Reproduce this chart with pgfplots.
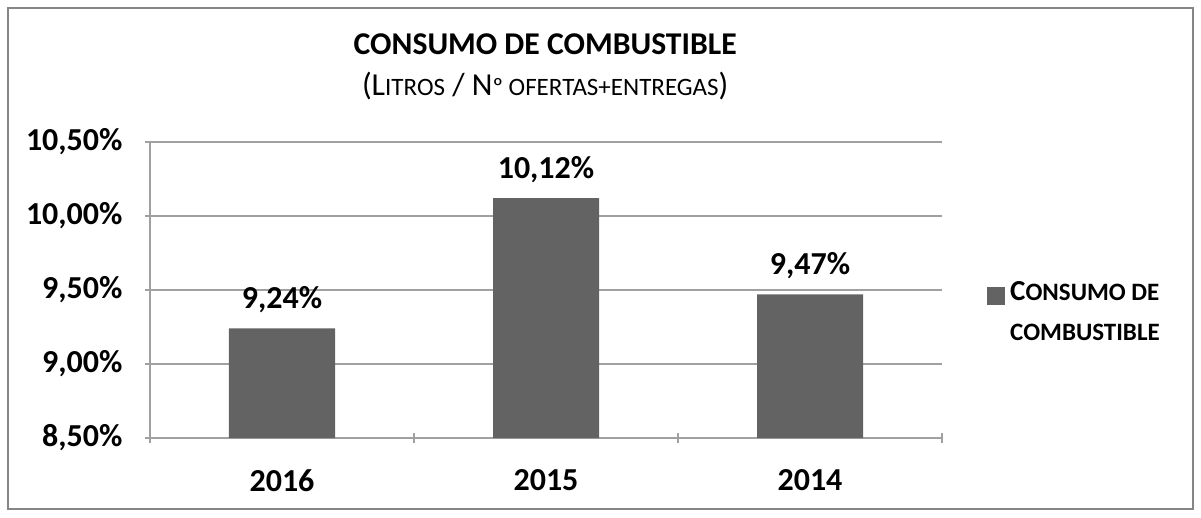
\documentclass[border=0pt]{standalone}
\usepackage{pgfplots}
\pgfplotsset{compat=1.18}
\usepackage{fontspec}
\setmainfont{Carlito}
\definecolor{barfill}{HTML}{636363}
\definecolor{gridgray}{HTML}{A0A0A0}
\definecolor{framegray}{HTML}{868686}
\newcommand\bigc[1]{{\fontsize{32}{32}\selectfont #1}}
\newcommand\smc[1]{{\fontsize{25}{25}\selectfont #1}}
\newcommand\legc[1]{{\fontsize{29}{29}\selectfont #1}}
\newcommand\legs[1]{{\fontsize{25}{25}\selectfont #1}}
\begin{document}
\begin{tikzpicture}
\begin{axis}[
    scale only axis,
    width=792pt, height=296pt,
    ybar, bar width=106pt,
    xmin=-0.5, xmax=2.5,
    ymin=8.5, ymax=10.5,
    xtick={-0.5,0.5,1.5,2.5},
    xticklabels={},
    extra x ticks={0,1,2},
    extra x tick labels={2016,2015,2014},
    extra x tick style={major tick length=0pt},
    ytick={8.5,9,9.5,10,10.5},
    yticklabels={{8,50\%},{9,00\%},{9,50\%},{10,00\%},{10,50\%}},
    tick style={draw=gridgray, line width=1.2pt},
    major tick length=10pt,
    tick align=outside,
    ymajorgrids,
    grid style={gridgray, line width=1.2pt},
    axis x line=bottom, axis y line=left,
    axis line style={gridgray, line width=1.2pt, -},
    tick label style={font=\fontsize{32}{32}\selectfont\bfseries},
    yticklabel style={xshift=-19pt},
    xticklabel style={yshift=-28pt},
    nodes near coords={\pgfmathprintnumber[fixed,fixed zerofill,precision=2,use comma,assume math mode=true]{\pgfplotspointmeta}\%},
    nodes near coords style={font=\fontsize{32}{32}\selectfont\bfseries, anchor=south, yshift=12pt},
    legend style={at={(1.0,0.5)}, anchor=west, draw=none, fill=none, xshift=42pt, yshift=-22pt,
        font=\bfseries, cells={align=left}},
    legend image code/.code={\fill[#1] (0pt,7pt) rectangle (18pt,25pt); \path (21pt,7pt);},
    clip=false,
]
\addplot[fill=barfill, draw=none] coordinates {(0,9.24) (1,10.12) (2,9.47)};
\addlegendentry{\legc{C}\legs{ONSUMO DE}\\[22pt]\legs{COMBUSTIBLE}}
\draw[framegray, line width=1.2pt] ([xshift=-142pt,yshift=-71pt]axis description cs:0,0) rectangle ([xshift=251pt,yshift=134pt]axis description cs:1,1);
\path ([xshift=-150pt,yshift=-79pt]axis description cs:0,0) rectangle ([xshift=259pt,yshift=142pt]axis description cs:1,1);
\node[anchor=base, font=\fontsize{31.7}{32}\selectfont\bfseries] at ([yshift=87pt]axis description cs:0.499,1) {CONSUMO DE COMBUSTIBLE};
\node[anchor=base] at ([yshift=46pt]axis description cs:0.499,1) {\bigc{(L}\smc{ITROS}\bigc{ / N}\smc{º OFERTAS+ENTREGAS}\bigc{)}};
\end{axis}
\end{tikzpicture}
\end{document}
